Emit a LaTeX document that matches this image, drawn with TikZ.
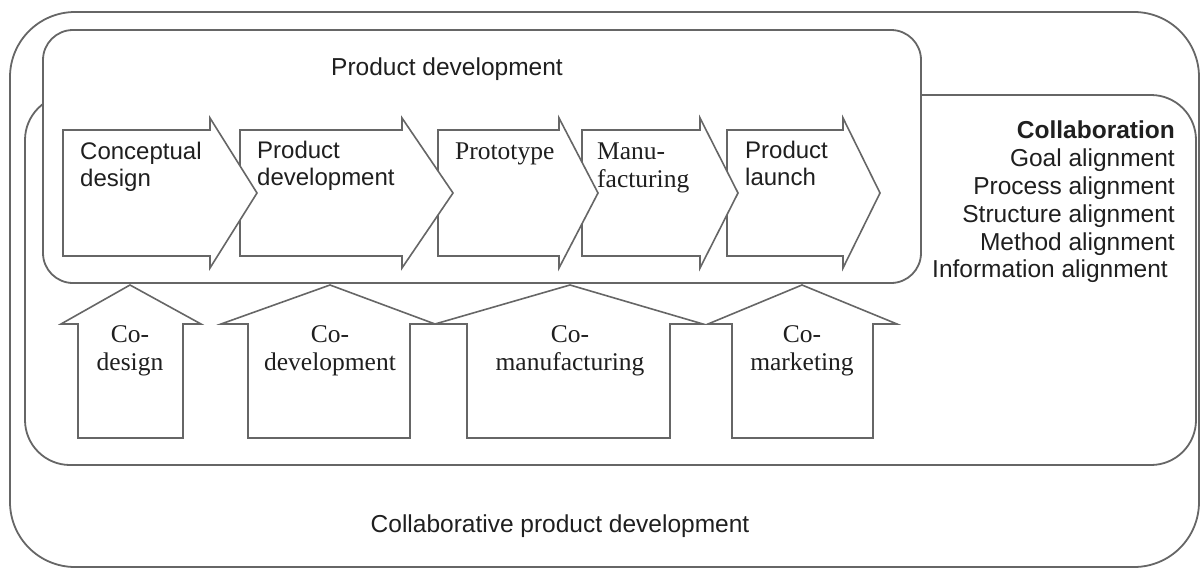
\documentclass[tikz,border=0pt]{standalone}
\usepackage{fontspec}
\setmainfont{Liberation Sans}
\newfontfamily\timesfont{Liberation Serif}
\definecolor{framegray}{gray}{0.4}
\definecolor{inkgray}{gray}{0.12}

\tikzset{
    frame/.style={draw=framegray, line width=1.8pt, rounded corners=#1},
    blockarrow/.style={draw=framegray, line width=1.6pt, fill=white, line join=miter},
    steplabel/.style={anchor=north west, inner sep=0pt, align=left, text=inkgray,
        font=\fontsize{24}{27}\selectfont},
    serifstep/.style={steplabel, font=\timesfont\fontsize{25.5}{28}\selectfont},
    colabel/.style={anchor=north, inner sep=0pt, align=center, text=inkgray,
        font=\timesfont\fontsize{25.5}{28}\selectfont},
    plainlabel/.style={anchor=base, inner sep=0pt, text=inkgray,
        font=\fontsize{24.5}{28}\selectfont}
}

\begin{document}
\begin{tikzpicture}[x=1pt, y=-1pt]
    \useasboundingbox (0,0) rectangle (1202,570);
    % the three nested frames
    \draw[frame=65pt] (10,12) rectangle (1199,567);
    \draw[frame=45pt] (25,95) rectangle (1196,465);
    \draw[frame=30pt, fill=white] (43,30) rectangle (921,283);
    % process chevrons, drawn right to left so each head covers the next body
    \foreach \l/\h/\t in {727/843/880, 582/700/738, 438/559/598, 240/402/453, 63/210/257}
        \draw[blockarrow] (\l,130) -- (\h,130) -- (\h,118) -- (\t,193) -- (\h,268) -- (\h,256) -- (\l,256) -- cycle;
    % co- arrows pointing up into the process
    \foreach \bl/\br/\hl/\hr/\tip in {78/183/61/201/130, 248/410/221/435/330, 467/670/435/703/570, 732/873/708/897/802}
        \draw[blockarrow] (\bl,438) -- (\bl,324) -- (\hl,324) -- (\tip,285) -- (\hr,324) -- (\br,324) -- (\br,438) -- cycle;

    \node[plainlabel] (pdtitle) at (447,75) {Product development};
    \node[steplabel] (concept) at (80,142) {Conceptual\\design};
    \node[steplabel] (proddev) at (257,141) {Product\\development};
    \node[serifstep] (proto) at (455,143) {Prototype};
    \node[serifstep] (manu) at (597,143) {Manu-\\facturing};
    \node[steplabel] (launch) at (745,141) {Product\\launch};

    \node[colabel] (codesign) at (130,325) {Co-\\design};
    \node[colabel] (codev) at (330,325) {Co-\\development};
    \node[colabel] (comanu) at (570,325) {Co-\\manufacturing};
    \node[colabel] (comarket) at (802,325) {Co-\\marketing};

    \node[anchor=north east, inner sep=0pt, align=right, text=inkgray,
        font=\fontsize{24.5}{27.8}\selectfont] (collab) at (1175,121)
        {\textbf{Collaboration}\\Goal alignment\hspace*{7pt}\\Process alignment\\
         Structure alignment\hspace*{7pt}\\Method alignment\hspace*{2pt}\\Information alignment\hspace*{7pt}};

    \node[plainlabel] (cpdtitle) at (560,532) {Collaborative product development};
\end{tikzpicture}
\end{document}
